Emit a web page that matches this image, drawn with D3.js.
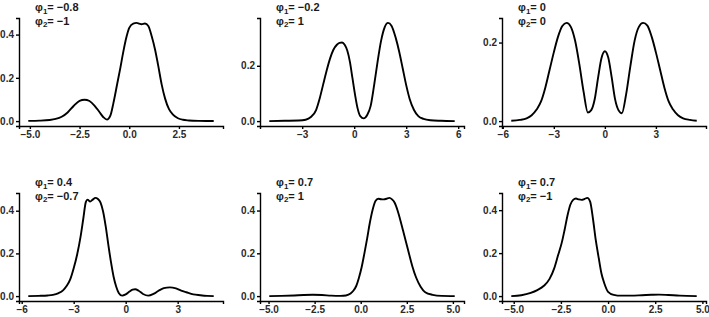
<!DOCTYPE html>
<html>
<head>
<meta charset="utf-8">
<script src="https://cdn.jsdelivr.net/npm/d3@7"></script>
<style>
  body { margin: 0; background: #fff; }
  text { font-family: "Liberation Sans", Arial, sans-serif; }
</style>
</head>
<body>
<svg id="plot"></svg>
<script>
// panel labels
var phi1 = ["\u22120.8", "\u22120.2", "0", "0.4", "0.7", "0.7"];
var phi2 = ["\u22121", "1", "0", "\u22120.7", "1", "\u22121"];

// tick values
var xTicks = [[-5, -2.5, 0, 2.5], [-3, 0, 3, 6], [-6, -3, 0, 3], [-6, -3, 0, 3], [-5, -2.5, 0, 2.5, 5], [-5, -2.5, 0, 2.5, 5]];
var xFormats = [".1f", "d", "d", "d", ".1f", ".1f"];
var yTicks = [[0, 0.2, 0.4], [0, 0.2], [0, 0.2], [0, 0.2, 0.4], [0, 0.2, 0.4], [0, 0.2, 0.4]];

// density curves
var x1 = [-5.08, -4.5, -4.0, -3.7, -3.4, -3.1, -2.8, -2.5, -2.25, -2.0, -1.75, -1.5, -1.3, -1.12, -0.95, -0.8, -0.6, -0.45, -0.3, -0.15, 0, 0.2, 0.37, 0.5, 0.62, 0.79, 0.96, 1.13, 1.3, 1.45, 1.63, 1.8, 2.0, 2.2, 2.45, 2.7, 3.0, 3.5, 4.0, 4.25];
var y1 = [0.001, 0.002, 0.005, 0.010, 0.020, 0.040, 0.070, 0.094, 0.099, 0.093, 0.072, 0.042, 0.018, 0.007, 0.025, 0.082, 0.175, 0.245, 0.320, 0.385, 0.431, 0.451, 0.454, 0.451, 0.448, 0.451, 0.440, 0.392, 0.330, 0.260, 0.170, 0.105, 0.055, 0.030, 0.013, 0.006, 0.003, 0.001, 0.0005, 0.0003];

var x2 = [-4.9, -4.0, -3.2, -2.8, -2.5, -2.2, -2.0, -1.8, -1.6, -1.4, -1.2, -1.0, -0.85, -0.7, -0.55, -0.4, -0.25, -0.1, 0.05, 0.2, 0.35, 0.55, 0.75, 0.95, 1.15, 1.35, 1.55, 1.75, 1.95, 2.15, 2.4, 2.6, 2.8, 3.0, 3.2, 3.45, 3.7, 4.0, 4.4, 5.0, 5.8];
var y2 = [0.000, 0.001, 0.002, 0.005, 0.015, 0.040, 0.080, 0.130, 0.180, 0.225, 0.258, 0.276, 0.283, 0.284, 0.276, 0.255, 0.215, 0.155, 0.095, 0.045, 0.018, 0.010, 0.022, 0.055, 0.130, 0.215, 0.290, 0.338, 0.355, 0.345, 0.300, 0.250, 0.190, 0.130, 0.080, 0.040, 0.018, 0.008, 0.003, 0.001, 0.000];

var x3 = [-5.5, -5.0, -4.6, -4.3, -4.0, -3.75, -3.5, -3.25, -3.0, -2.75, -2.5, -2.25, -2.0, -1.75, -1.5, -1.25, -1.0, -0.8, -0.6, -0.4, -0.2, 0, 0.2, 0.4, 0.6, 0.8, 1.0, 1.25, 1.5, 1.75, 2.0, 2.25, 2.5, 2.75, 3.0, 3.25, 3.5, 3.75, 4.0, 4.3, 4.6, 5.0, 5.4];
var y3 = [0.001, 0.003, 0.007, 0.015, 0.030, 0.050, 0.085, 0.130, 0.175, 0.215, 0.242, 0.250, 0.240, 0.205, 0.145, 0.075, 0.022, 0.028, 0.055, 0.110, 0.160, 0.178, 0.162, 0.112, 0.056, 0.028, 0.020, 0.068, 0.140, 0.205, 0.240, 0.250, 0.243, 0.215, 0.175, 0.130, 0.085, 0.050, 0.030, 0.015, 0.007, 0.003, 0.001];

var x4 = [-5.62, -5.0, -4.5, -4.2, -3.9, -3.6, -3.4, -3.2, -3.0, -2.8, -2.6, -2.45, -2.3, -2.2, -2.05, -1.9, -1.75, -1.6, -1.45, -1.3, -1.15, -1.0, -0.85, -0.7, -0.55, -0.4, -0.2, 0.0, 0.2, 0.4, 0.55, 0.75, 1.0, 1.3, 1.6, 1.9, 2.2, 2.55, 2.9, 3.2, 3.5, 3.9, 4.3, 4.7, 5.08];
var y4 = [0.000, 0.001, 0.003, 0.006, 0.013, 0.028, 0.048, 0.078, 0.130, 0.195, 0.280, 0.360, 0.440, 0.452, 0.443, 0.452, 0.460, 0.455, 0.438, 0.395, 0.325, 0.240, 0.160, 0.092, 0.045, 0.015, 0.002, 0.008, 0.020, 0.030, 0.032, 0.025, 0.010, 0.002, 0.010, 0.025, 0.037, 0.041, 0.036, 0.026, 0.018, 0.008, 0.004, 0.001, 0.000];

var x5 = [-4.96, -4.3, -3.6, -3.1, -2.6, -2.1, -1.6, -1.1, -0.8, -0.55, -0.4, -0.25, -0.1, 0.05, 0.2, 0.35, 0.5, 0.65, 0.8, 0.95, 1.1, 1.25, 1.4, 1.55, 1.7, 1.85, 2.0, 2.15, 2.3, 2.45, 2.6, 2.8, 3.0, 3.25, 3.5, 3.9, 4.4, 5.1];
var y5 = [0.000, 0.001, 0.003, 0.005, 0.006, 0.005, 0.002, 0.001, 0.003, 0.012, 0.025, 0.046, 0.085, 0.135, 0.200, 0.270, 0.345, 0.405, 0.445, 0.455, 0.453, 0.452, 0.455, 0.459, 0.452, 0.435, 0.400, 0.355, 0.305, 0.255, 0.205, 0.140, 0.088, 0.044, 0.018, 0.006, 0.001, 0.000];

var x6 = [-5.13, -4.6, -4.1, -3.75, -3.4, -3.1, -2.85, -2.65, -2.45, -2.3, -2.15, -2.0, -1.85, -1.7, -1.55, -1.4, -1.25, -1.1, -0.95, -0.8, -0.65, -0.5, -0.35, -0.2, 0.0, 0.3, 0.7, 1.2, 1.8, 2.3, 2.7, 3.2, 3.8, 4.7];
var y6 = [0.000, 0.004, 0.015, 0.028, 0.048, 0.080, 0.130, 0.190, 0.250, 0.310, 0.375, 0.425, 0.448, 0.454, 0.450, 0.448, 0.452, 0.457, 0.440, 0.360, 0.260, 0.180, 0.105, 0.060, 0.020, 0.006, 0.002, 0.002, 0.004, 0.006, 0.007, 0.005, 0.002, 0.000];

var xs = [x1, x2, x3, x4, x5, x6];
var ys = [y1, y2, y3, y4, y5, y6];

var svg = d3.select("#plot").attr("width", 709).attr("height", 317);

// panel frames (plot area in pixels)
var colLeft = [19, 260, 502],
    colRight = [223, 464, 706],
    rowTop = [18, 193],
    rowBottom = [126, 301];

xs.forEach(function(xv, i) {
  var col = i % 3, row = Math.floor(i / 3);
  var left = colLeft[col], right = colRight[col],
      top = rowTop[row], bottom = rowBottom[row];
  var yv = ys[i];
  var pts = xv.map(function(d, j) { return [d, yv[j]]; });

  // ggplot-like 5% expansion
  var ext = d3.extent(xv), span = ext[1] - ext[0];
  var x = d3.scaleLinear()
    .domain([ext[0] - 0.05 * span, ext[1] + 0.05 * span])
    .range([left, right]);
  var ymax = d3.max(yv);
  var y = d3.scaleLinear()
    .domain([-0.05 * ymax, 1.05 * ymax])
    .range([bottom, top]);

  var g = svg.append("g");

  g.append("g")
    .attr("class", "axis")
    .attr("transform", "translate(0," + bottom + ")")
    .call(d3.axisBottom(x).tickValues(xTicks[i]).tickFormat(d3.format(xFormats[i]))
      .tickSizeOuter(0).tickSize(3).tickPadding(2));

  g.append("g")
    .attr("class", "axis")
    .attr("transform", "translate(" + left + ",0)")
    .call(d3.axisLeft(y).tickValues(yTicks[i]).tickFormat(d3.format(".1f"))
      .tickSizeOuter(0).tickSize(3).tickPadding(2));

  g.selectAll(".axis path, .axis line")
    .attr("stroke", "#000").attr("stroke-width", 1.4);
  g.selectAll(".axis text")
    .attr("font-size", 10).attr("font-weight", "bold")
    .attr("fill", "#2a2a2a")
    .attr("font-family", "'Liberation Sans', Arial, sans-serif");

  g.append("path")
    .datum(pts)
    .attr("fill", "none")
    .attr("stroke", "#000")
    .attr("stroke-width", 1.9)
    .attr("stroke-linejoin", "round")
    .attr("d", d3.line()
      .x(function(d) { return x(d[0]); })
      .y(function(d) { return y(d[1]); })
      .curve(d3.curveMonotoneX));

  // φ labels
  var lx = left + 16;
  [[phi1[i], "1", top - 11], [phi2[i], "2", top + 2.5]].forEach(function(l) {
    var t = g.append("text")
      .attr("x", lx).attr("y", l[2] + 4)
      .attr("font-size", 11).attr("font-weight", "bold").attr("fill", "#1a1a1a");
    t.append("tspan").text("\u03c6");
    t.append("tspan").attr("dy", 2.5).attr("font-size", 8).text(l[1]);
    t.append("tspan").attr("dy", -2.5).text("= " + l[0]);
  });
});
</script>
</body>
</html>
